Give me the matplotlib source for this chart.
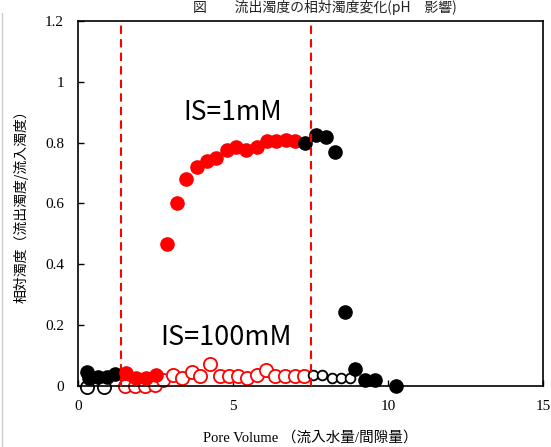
import matplotlib
matplotlib.use("Agg")
import matplotlib.pyplot as plt
from matplotlib.lines import Line2D

# IS = 1 mM (filled)
black_pre_x = [0.30, 0.35, 0.63, 0.93, 1.20]
black_pre_y = [0.045, 0.025, 0.030, 0.030, 0.040]
red_fill_x = [1.55, 1.87, 2.18, 2.50, 2.86, 3.18, 3.48, 3.83, 4.15, 4.45, 4.80, 5.10,
              5.42, 5.76, 6.09, 6.39, 6.71, 7.00]
red_fill_y = [0.042, 0.025, 0.025, 0.036, 0.466, 0.600, 0.680, 0.720, 0.740, 0.750, 0.776, 0.787,
              0.776, 0.787, 0.806, 0.806, 0.810, 0.806]
black_post_x = [7.33, 7.68, 8.00, 8.29, 8.61, 8.95, 9.26, 9.58, 10.26]
black_post_y = [0.800, 0.825, 0.820, 0.770, 0.242, 0.057, 0.020, 0.020, 0.000]

# IS = 100 mM (open)
bopen_pre_x = [0.28, 0.85]
bopen_pre_y = [-0.003, -0.003]
red_open_x = [1.52, 1.84, 2.16, 2.48, 2.75, 3.05, 3.35, 3.67, 3.94, 4.26, 4.58, 4.88, 5.17,
              5.46, 5.76, 6.06, 6.35, 6.68, 7.00, 7.29]
red_open_y = [0.000, 0.000, 0.000, 0.003, 0.020, 0.036, 0.025, 0.047, 0.034, 0.071, 0.034, 0.034, 0.034,
              0.025, 0.036, 0.053, 0.034, 0.034, 0.034, 0.034]
bopen_post_x = [7.59, 7.86, 8.18, 8.47, 8.77]
bopen_post_y = [0.036, 0.036, 0.025, 0.025, 0.025]

vlines_x = [1.39, 7.50]
xticks = [0, 5, 10, 15]
yticks = [0, 0.2, 0.4, 0.6, 0.8, 1.0, 1.2]
yticklabels = ["0", "0.2", "0.4", "0.6", "0.8", "1", "1.2"]

fig = plt.figure(figsize=(5.51, 4.47), dpi=100)
ax = fig.add_axes([0.1416, 0.1365, 0.844, 0.8165])

ms = 9.5
ax.plot(bopen_pre_x, bopen_pre_y, 'o', ms=ms, mfc='white', mec='black', mew=1.3, clip_on=False, zorder=2)
ax.plot(red_open_x, red_open_y, 'o', ms=ms, mfc='white', mec='red', mew=1.3, clip_on=False, zorder=2)
ax.plot(bopen_post_x, bopen_post_y, 'o', ms=7, mfc='white', mec='black', mew=1.3, clip_on=False, zorder=2)
ax.plot(black_pre_x, black_pre_y, 'o', ms=ms, color='black', clip_on=False, zorder=3)
ax.plot(red_fill_x, red_fill_y, 'o', ms=ms, color='red', clip_on=False, zorder=3)
ax.plot(black_post_x, black_post_y, 'o', ms=ms, color='black', clip_on=False, zorder=3)

for xv in vlines_x:
    ax.plot([xv, xv], [0, 1.19], color='red', lw=1.5, ls=(0, (4, 2.5)), zorder=4, clip_on=False)

ax.set_xlim(0, 15)
ax.set_ylim(0, 1.2)
ax.set_xticks(xticks)
ax.set_yticks(yticks)
ax.set_yticklabels(yticklabels)
ax.tick_params(direction='in', length=4, width=1, labelsize=11, pad=10)
for lab in ax.get_xticklabels() + ax.get_yticklabels():
    lab.set_family('Liberation Serif')
for s in ax.spines.values():
    s.set_linewidth(1.2)

ax.text(5.0, 0.898, "IS=1mM", fontsize=19, family='Noto Sans CJK JP', ha='center', va='center')
ax.text(4.77, 0.16, "IS=100mM", fontsize=19.5, family='Noto Sans CJK JP', ha='center', va='center')

ax.set_xlabel("Pore Volume （流入水量/間隙量）", fontsize=10.5,
              family=['Liberation Serif', 'Noto Sans CJK JP'], labelpad=13)
ax.set_ylabel("相対濁度（流出濁度/流入濁度）", fontsize=10,
              family=['Noto Sans CJK JP'], labelpad=12)

fig.text(0.59, 0.999, "図　　流出濁度の相対濁度変化(pH　影響)", fontsize=10,
         family=['Noto Sans CJK JP'], ha='center', va='top', color='#222222')
fig.add_artist(Line2D([0.003, 0.003], [0.0, 0.97], transform=fig.transFigure, color='#cccccc', lw=1))

fig.savefig("out.png", dpi=100)
